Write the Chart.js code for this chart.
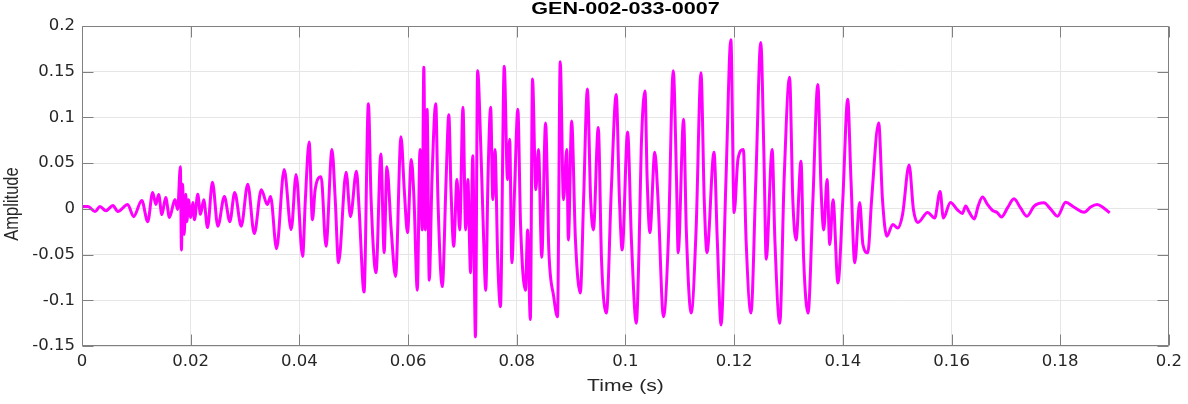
<!DOCTYPE html>
<html>
<head>
<meta charset="utf-8">
<script src="https://cdn.jsdelivr.net/npm/chart.js@4/dist/chart.umd.min.js"></script>
<style>
  html, body { margin: 0; padding: 0; background: #ffffff; }
  #wrap { width: 1188px; height: 404px; }
</style>
</head>
<body>
<div id="wrap"><canvas id="c" width="1188" height="404"></canvas></div>
<script>
// ---- Data ----
const chartTitle = "GEN-002-033-0007";
const xAxisLabel = "Time (s)";
const yAxisLabel = "Amplitude";
const xTicks = [0, 0.02, 0.04, 0.06, 0.08, 0.1, 0.12, 0.14, 0.16, 0.18, 0.2];
const yTicks = [-0.15, -0.1, -0.05, 0, 0.05, 0.1, 0.15, 0.2];

const times = [
  0.0000, 0.0011, 0.0024, 0.0033, 0.0044, 0.0057, 0.0066, 0.0084, 0.0095, 0.0110,
  0.0121, 0.0130, 0.0136, 0.0141, 0.0147, 0.0154, 0.0161, 0.0171, 0.0176, 0.0181,
  0.0183, 0.0185, 0.0188, 0.0191, 0.0193, 0.0196, 0.0200, 0.0204, 0.0207, 0.0213,
  0.0218, 0.0224, 0.0231, 0.0240, 0.0250, 0.0262, 0.0272, 0.0281, 0.0293, 0.0305,
  0.0317, 0.0330, 0.0341, 0.0347, 0.0358, 0.0372, 0.0385, 0.0394, 0.0406, 0.0411,
  0.0418, 0.0424, 0.0429, 0.0440, 0.0449, 0.0460, 0.0466, 0.0472, 0.0486, 0.0494,
  0.0505, 0.0510, 0.0519, 0.0527, 0.0532, 0.0541, 0.0550, 0.0556, 0.0561, 0.0569,
  0.0577, 0.0587, 0.0593, 0.0599, 0.0606, 0.0611, 0.0617, 0.0622, 0.0626, 0.0629,
  0.0632, 0.0635, 0.0639, 0.0644, 0.0651, 0.0655, 0.0663, 0.0670, 0.0675, 0.0679,
  0.0684, 0.0690, 0.0695, 0.0701, 0.0706, 0.0710, 0.0715, 0.0719, 0.0724, 0.0728,
  0.0734, 0.0738, 0.0743, 0.0747, 0.0752, 0.0756, 0.0760, 0.0765, 0.0770, 0.0777,
  0.0783, 0.0787, 0.0791, 0.0796, 0.0802, 0.0807, 0.0816, 0.0820, 0.0825, 0.0829,
  0.0835, 0.0840, 0.0846, 0.0853, 0.0859, 0.0868, 0.0875, 0.0880, 0.0886, 0.0892,
  0.0895, 0.0901, 0.0908, 0.0917, 0.0923, 0.0930, 0.0936, 0.0941, 0.0950, 0.0956,
  0.0965, 0.0974, 0.0983, 0.0989, 0.0994, 0.1004, 0.1011, 0.1020, 0.1025, 0.1029,
  0.1036, 0.1040, 0.1045, 0.1054, 0.1060, 0.1070, 0.1079, 0.1088, 0.1094, 0.1097,
  0.1107, 0.1112, 0.1121, 0.1130, 0.1139, 0.1145, 0.1150, 0.1163, 0.1169, 0.1176,
  0.1185, 0.1194, 0.1200, 0.1207, 0.1217, 0.1222, 0.1231, 0.1240, 0.1249, 0.1255,
  0.1259, 0.1270, 0.1275, 0.1284, 0.1292, 0.1302, 0.1308, 0.1314, 0.1323, 0.1328,
  0.1336, 0.1345, 0.1354, 0.1360, 0.1365, 0.1371, 0.1376, 0.1382, 0.1391, 0.1400,
  0.1409, 0.1415, 0.1422, 0.1431, 0.1437, 0.1446, 0.1453, 0.1466, 0.1473, 0.1481,
  0.1492, 0.1501, 0.1510, 0.1522, 0.1530, 0.1538, 0.1556, 0.1569, 0.1579, 0.1585,
  0.1598, 0.1611, 0.1620, 0.1626, 0.1632, 0.1642, 0.1649, 0.1657, 0.1666, 0.1675,
  0.1684, 0.1692, 0.1703, 0.1715, 0.1727, 0.1739, 0.1752, 0.1770, 0.1782, 0.1795,
  0.1810, 0.1825, 0.1844, 0.1856, 0.1868, 0.1880, 0.1891
];

const amplitudes = [
  0.0025, 0.0025, -0.003, 0.0025, -0.002, 0.0036, -0.003, 0.0047, -0.0085, 0.0091,
  -0.014, 0.018, 0.0047, 0.0157, -0.0063, 0.0124, -0.0095, 0.0102, -0.0008, 0.046,
  -0.045, 0.027, -0.028, 0.016, -0.014, 0.010, -0.0095, 0.007, -0.012, 0.016,
  -0.006, 0.010, -0.0205, 0.029, -0.019, 0.0135, -0.014, 0.018, -0.019, 0.027,
  -0.027, 0.021, 0.0047, 0.0135, -0.0436, 0.043, -0.0227, 0.0376, -0.052, 0.010,
  0.073, -0.012, 0.021, 0.035, -0.041, 0.065, 0.010, -0.059, 0.040, -0.0085,
  0.041, -0.0008, -0.091, 0.115, 0.010, -0.070, 0.060, -0.048, 0.046, -0.023,
  -0.074, 0.079, 0.021, -0.026, 0.054, 0.010, -0.089, 0.065, -0.023, 0.155,
  -0.023, 0.109, -0.078, 0.032, 0.115, 0.010, -0.085, 0.032, 0.103, 0.021,
  -0.041, 0.032, -0.023, 0.111, -0.023, 0.032, -0.070, 0.058, -0.140, 0.151,
  0.065, -0.012, -0.089, 0.032, 0.111, 0.010, 0.065, -0.056, -0.107, 0.156,
  0.032, 0.076, -0.059, 0.021, 0.109, -0.017, -0.089, -0.023, -0.121, 0.142,
  0.021, 0.065, -0.053, 0.094, -0.045, -0.096, -0.118, 0.161, 0.010, 0.065,
  -0.034, 0.096, -0.034, -0.092, 0.010, 0.131, 0.010, -0.023, 0.089, -0.056,
  -0.114, 0.021, 0.125, 0.010, -0.045, 0.084, -0.034, -0.125, -0.045, 0.065,
  0.129, 0.032, -0.026, 0.062, 0.010, -0.118, -0.034, 0.151, 0.032, -0.048,
  0.098, -0.023, -0.114, -0.023, 0.149, 0.010, -0.048, 0.062, -0.034, -0.127,
  0.032, 0.185, -0.004, 0.054, 0.065, -0.034, -0.114, 0.032, 0.182, 0.054,
  -0.055, 0.065, -0.034, -0.125, 0.032, 0.144, 0.010, -0.034, 0.052, -0.056,
  -0.114, 0.010, 0.136, 0.021, -0.023, 0.032, -0.039, 0.010, -0.081, 0.010,
  0.120, 0.032, -0.059, 0.007, -0.039, -0.048, 0.010, 0.094, 0.010, -0.030,
  -0.017, -0.021, -0.006, 0.048, -0.001, -0.015, -0.004, -0.010, 0.019, -0.010,
  0.007, -0.001, -0.005, 0.003, -0.003, -0.011, 0.003, 0.013, 0.005, -0.0015,
  -0.004, -0.009, 0.001, 0.011, 0.001, -0.008, 0.003, 0.0066, 0.000, -0.008,
  0.0073, 0.002, -0.0037, 0.002, 0.0047, 0.001, -0.0044
];

// ---- Styling ----
const TICK_FONT = "'DejaVu Sans', 'Liberation Sans', Arial, sans-serif";
const LABEL_FONT = "'Liberation Sans', Arial, Helvetica, sans-serif";
const TEXT = '#262626';
const AXIS = '#808080';
const GRID = '#e6e6e6';
const STRETCH = 1.28;

function fmt(v) { return String(Number(Number(v).toFixed(4))); }

const points = times.map((t, i) => ({ x: t, y: amplitudes[i] }));

const matlabAxes = {
  id: 'matlabAxes',
  afterDraw(chart) {
    const ctx = chart.ctx;
    const a = chart.chartArea;
    const xs = chart.scales.x, ys = chart.scales.y;
    const L = Math.round(a.left) + 0.5, R = Math.round(a.right) - 0.5;
    const T = Math.round(a.top) + 0.5, B = Math.round(a.bottom) - 0.5;
    const tl = 11;
    ctx.save();
    ctx.strokeStyle = AXIS;
    ctx.lineWidth = 1;
    ctx.beginPath();
    ctx.rect(L, T, R - L, B - T);
    ctx.stroke();
    ctx.beginPath();
    xTicks.forEach(v => {
      const px = Math.round(xs.getPixelForValue(v)) + 0.5;
      ctx.moveTo(px, B); ctx.lineTo(px, B - tl);
      ctx.moveTo(px, T); ctx.lineTo(px, T + tl);
    });
    yTicks.forEach(v => {
      const py = Math.round(ys.getPixelForValue(v)) + 0.5;
      ctx.moveTo(L, py); ctx.lineTo(L + tl, py);
      ctx.moveTo(R, py); ctx.lineTo(R - tl, py);
    });
    ctx.stroke();
    ctx.restore();

    const cx = (a.left + a.right) / 2;
    // title
    ctx.save();
    ctx.fillStyle = '#000000';
    ctx.font = 'bold 16px ' + LABEL_FONT;
    ctx.textAlign = 'center';
    ctx.textBaseline = 'middle';
    ctx.translate(cx, 10);
    ctx.scale(1.35, 1);
    ctx.fillText(chartTitle, 0, 0);
    ctx.restore();

    // x label
    ctx.save();
    ctx.fillStyle = TEXT;
    ctx.font = '16.5px ' + LABEL_FONT;
    ctx.textAlign = 'center';
    ctx.textBaseline = 'middle';
    ctx.translate(cx, 386);
    ctx.scale(STRETCH, 1);
    ctx.fillText(xAxisLabel, 0, 0);
    ctx.restore();

    // y label
    ctx.save();
    ctx.fillStyle = TEXT;
    ctx.font = '16.5px ' + LABEL_FONT;
    ctx.textAlign = 'center';
    ctx.textBaseline = 'middle';
    ctx.translate(12, 204);
    ctx.scale(STRETCH, 1);
    ctx.rotate(-Math.PI / 2);
    ctx.fillText(yAxisLabel, 0, 0);
    ctx.restore();
  }
};

new Chart(document.getElementById('c'), {
  type: 'line',
  data: {
    datasets: [{
      data: points,
      borderColor: '#ff00ff',
      backgroundColor: '#ff00ff',
      borderWidth: 3,
      pointRadius: 0,
      cubicInterpolationMode: 'monotone',
      borderJoinStyle: 'round',
      fill: false
    }]
  },
  options: {
    responsive: false,
    animation: false,
    events: [],
    layout: { padding: { top: 26, right: 16, left: 0, bottom: 0 } },
    plugins: { legend: { display: false }, title: { display: false }, tooltip: { enabled: false } },
    scales: {
      x: {
        type: 'linear',
        min: 0, max: 0.2,
        afterFit(s) { s.height = 58; },
        afterBuildTicks(s) { s.ticks = xTicks.map(v => ({ value: v })); },
        grid: { color: GRID, drawTicks: false, lineWidth: 1 },
        border: { display: false },
        ticks: {
          padding: 6,
          maxRotation: 0,
          autoSkip: false,
          color: TEXT,
          font: { family: TICK_FONT, size: 16.5 },
          callback: v => fmt(v)
        }
      },
      y: {
        type: 'linear',
        min: -0.15, max: 0.2,
        afterFit(s) { s.width = 82; },
        afterBuildTicks(s) { s.ticks = yTicks.map(v => ({ value: v })); },
        grid: { color: GRID, drawTicks: false, lineWidth: 1 },
        border: { display: false },
        ticks: {
          padding: 7,
          autoSkip: false,
          color: TEXT,
          font: { family: TICK_FONT, size: 16.5 },
          callback: v => fmt(v)
        }
      }
    }
  },
  plugins: [matlabAxes]
});
</script>
</body>
</html>
